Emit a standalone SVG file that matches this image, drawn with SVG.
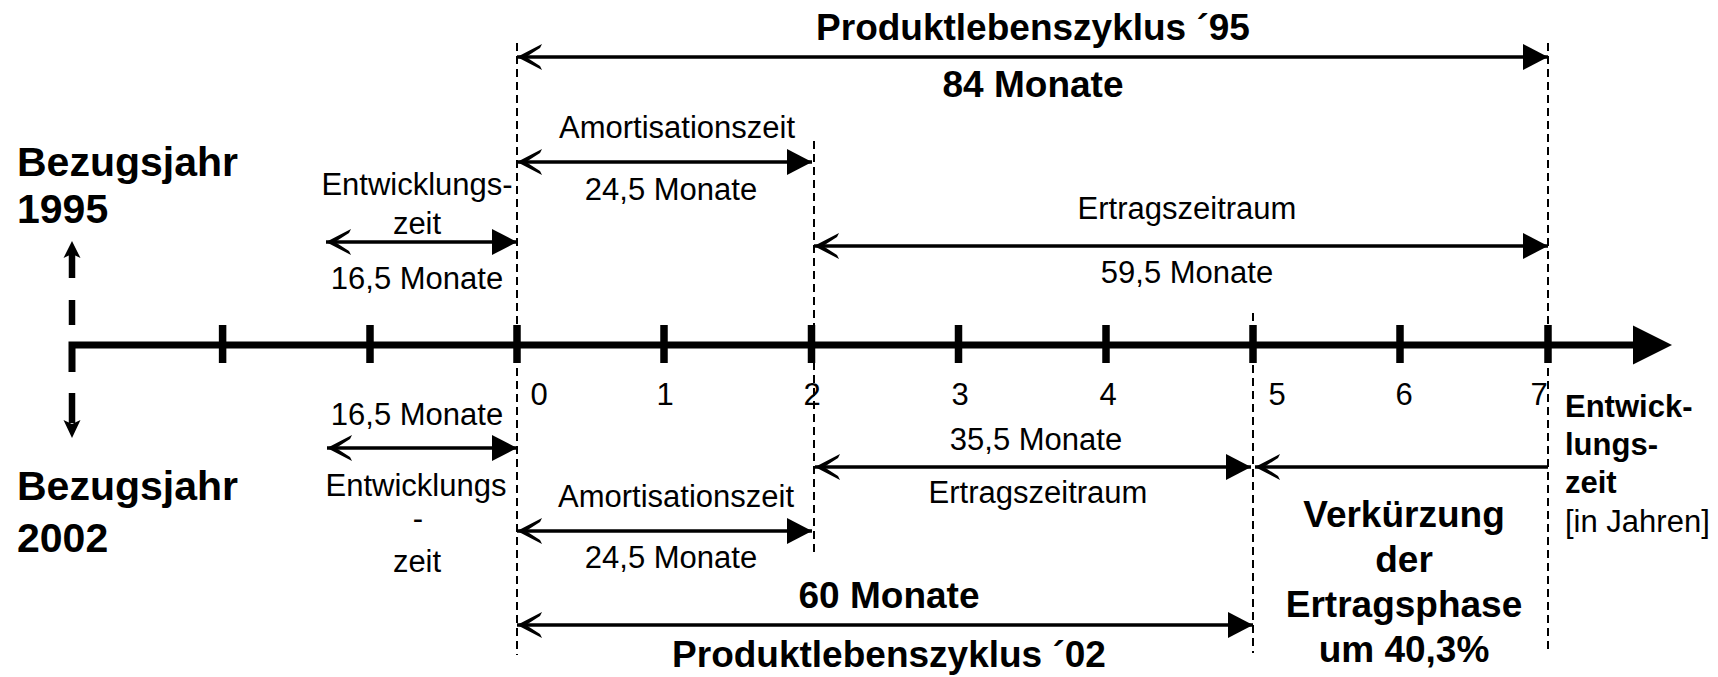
<svg xmlns="http://www.w3.org/2000/svg" width="1718" height="677" viewBox="0 0 1718 677">
  <style>
    text { font-family: "Liberation Sans", Arial, sans-serif; fill: #000; }
    .reg { font-size: 31px; }
    .mid { text-anchor: middle; }
    .bold { font-weight: bold; font-size: 37px; }
    .big { font-weight: bold; font-size: 41px; }
    .unit { font-weight: bold; font-size: 31px; }
    .dim { stroke: #000; stroke-width: 3.5; fill: none; marker-start: url(#stealth); marker-end: url(#tri); }
    .dim-open { stroke: #000; stroke-width: 3.5; fill: none; marker-start: url(#stealth); }
    .guide { stroke: #000; stroke-width: 2; stroke-dasharray: 8 5; fill: none; }
    .axis { stroke: #000; stroke-width: 7; fill: none; stroke-linejoin: miter; }
    .tick { stroke: #000; stroke-width: 7.5; }
    .ref { stroke: #000; stroke-width: 6.5; }
  </style>
  <defs>
    <!-- filled triangle head, tip at origin pointing +x -->
    <marker id="tri" markerUnits="userSpaceOnUse" orient="auto-start-reverse" overflow="visible" refX="0" refY="0" markerWidth="30" markerHeight="30">
      <path d="M0,0 L-25,-13 L-25,13 Z" fill="#000"/>
    </marker>
    <!-- notched chevron head, tip at origin pointing +x -->
    <marker id="stealth" markerUnits="userSpaceOnUse" orient="auto-start-reverse" overflow="visible" refX="0" refY="0" markerWidth="30" markerHeight="30">
      <path d="M0,0 L-25,-13 L-23,-9 L-9,0 L-23,9 L-25,13 Z" fill="#000"/>
    </marker>
  </defs>

  <!-- dashed guide lines -->
  <g id="guides">
    <line class="guide" x1="517" y1="43" x2="517" y2="655"/>
    <line class="guide" x1="814" y1="141" x2="814" y2="554"/>
    <line class="guide" x1="1253" y1="313" x2="1253" y2="653"/>
    <line class="guide" x1="1548" y1="43" x2="1548" y2="653"/>
  </g>

  <!-- time axis -->
  <g id="axis">
    <path class="axis" d="M72,372 V345 H1640"/>
    <polygon points="1633,325.5 1672,345 1633,364.5" fill="#000"/>
    <line class="tick" x1="222.6" y1="325" x2="222.6" y2="363"/>
    <line class="tick" x1="370" y1="325" x2="370" y2="363"/>
    <line class="tick" x1="517" y1="325" x2="517" y2="363"/>
    <line class="tick" x1="664" y1="325" x2="664" y2="363"/>
    <line class="tick" x1="811.5" y1="325" x2="811.5" y2="363"/>
    <line class="tick" x1="958.5" y1="325" x2="958.5" y2="363"/>
    <line class="tick" x1="1106" y1="325" x2="1106" y2="363"/>
    <line class="tick" x1="1253" y1="325" x2="1253" y2="363"/>
    <line class="tick" x1="1400" y1="325" x2="1400" y2="363"/>
    <line class="tick" x1="1548" y1="325" x2="1548" y2="363"/>
    <text class="reg mid" x="539" y="405">0</text>
    <text class="reg mid" x="665" y="405">1</text>
    <text class="reg mid" x="812" y="405">2</text>
    <text class="reg mid" x="960" y="405">3</text>
    <text class="reg mid" x="1108" y="405">4</text>
    <text class="reg mid" x="1277" y="405">5</text>
    <text class="reg mid" x="1404" y="405">6</text>
    <text class="reg mid" x="1539" y="405">7</text>
  </g>

  <!-- reference year markers -->
  <g id="ref-1995">
    <line class="ref" x1="72" y1="254" x2="72" y2="278"/>
    <line class="ref" x1="72" y1="300" x2="72" y2="325"/>
    <path d="M72,241 L80.5,258 L72,254 L63.5,258 Z" fill="#000"/>
    <text class="big" x="17" y="176">Bezugsjahr</text>
    <text class="big" x="17" y="223">1995</text>
  </g>
  <g id="ref-2002">
    <line class="ref" x1="72" y1="393" x2="72" y2="423"/>
    <path d="M72,438 L80.5,420 L72,424 L63.5,420 Z" fill="#000"/>
    <text class="big" x="17" y="500">Bezugsjahr</text>
    <text class="big" x="17" y="552">2002</text>
  </g>

  <!-- dimension arrows -->
  <g id="connectors">
    <line class="dim" x1="517" y1="57" x2="1548" y2="57"/>
    <line class="dim" x1="517" y1="162" x2="812" y2="162"/>
    <line class="dim" x1="326" y1="242" x2="517" y2="242"/>
    <line class="dim" x1="814" y1="246" x2="1548" y2="246"/>
    <line class="dim" x1="327" y1="448" x2="517" y2="448"/>
    <line class="dim" x1="815" y1="467" x2="1251" y2="467"/>
    <line class="dim-open" x1="1255" y1="467" x2="1548" y2="467"/>
    <line class="dim" x1="517" y1="531" x2="812" y2="531"/>
    <line class="dim" x1="517" y1="625" x2="1253" y2="625"/>
  </g>

  <!-- 1995 labels -->
  <g id="plz-95">
    <text class="bold mid" x="1033" y="40">Produktlebenszyklus ´95</text>
    <text class="bold mid" x="1033" y="97">84 Monate</text>
  </g>
  <g id="amort-95">
    <text class="reg mid" x="677" y="138">Amortisationszeit</text>
    <text class="reg mid" x="671" y="200">24,5 Monate</text>
  </g>
  <g id="entw-95">
    <text class="reg mid" x="417" y="195">Entwicklungs-</text>
    <text class="reg mid" x="417" y="234">zeit</text>
    <text class="reg mid" x="417" y="289">16,5 Monate</text>
  </g>
  <g id="ertrag-95">
    <text class="reg mid" x="1187" y="219">Ertragszeitraum</text>
    <text class="reg mid" x="1187" y="283">59,5 Monate</text>
  </g>

  <!-- 2002 labels -->
  <g id="entw-02">
    <text class="reg mid" x="417" y="425">16,5 Monate</text>
    <text class="reg mid" x="416" y="496">Entwicklungs</text>
    <text class="reg mid" x="418" y="529">-</text>
    <text class="reg mid" x="417" y="572">zeit</text>
  </g>
  <g id="amort-02">
    <text class="reg mid" x="676" y="507">Amortisationszeit</text>
    <text class="reg mid" x="671" y="568">24,5 Monate</text>
  </g>
  <g id="ertrag-02">
    <text class="reg mid" x="1036" y="450">35,5 Monate</text>
    <text class="reg mid" x="1038" y="503">Ertragszeitraum</text>
  </g>
  <g id="plz-02">
    <text class="bold mid" x="889" y="608">60 Monate</text>
    <text class="bold mid" x="889" y="667">Produktlebenszyklus ´02</text>
  </g>
  <g id="verkuerzung">
    <text class="bold mid" x="1404" y="527">Verkürzung</text>
    <text class="bold mid" x="1404" y="572">der</text>
    <text class="bold mid" x="1404" y="617">Ertragsphase</text>
    <text class="bold mid" x="1404" y="662">um 40,3%</text>
  </g>

  <!-- axis unit -->
  <g id="axis-label">
    <text class="unit" x="1565" y="417">Entwick-</text>
    <text class="unit" x="1565" y="455">lungs-</text>
    <text class="unit" x="1565" y="493">zeit</text>
    <text class="reg" x="1565" y="532">[in Jahren]</text>
  </g>
</svg>
